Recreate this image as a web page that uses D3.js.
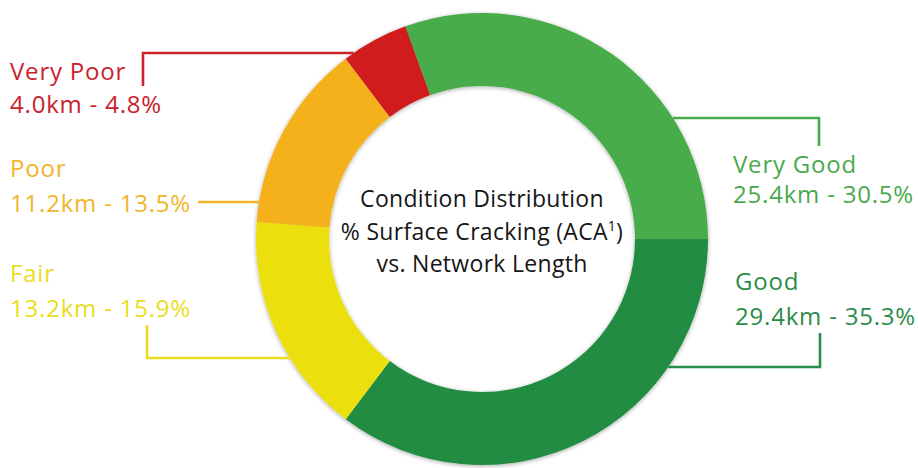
<!DOCTYPE html>
<html>
<head>
<meta charset="utf-8">
<script src="https://cdn.jsdelivr.net/npm/d3@7"></script>
<style>
  html, body { margin: 0; padding: 0; background: #fff; }
  svg { display: block; }
</style>
</head>
<body>
<svg id="chart" width="918" height="468"></svg>
<script>
// ---- data ----
const categories = ["Good", "Fair", "Poor", "Very Poor", "Very Good"];
const lengthsKm = [29.4, 13.2, 11.2, 4.0, 25.4];
const percents = [35.3, 15.9, 13.5, 4.8, 30.5];
const centerTitle = ["Condition Distribution", "% Surface Cracking (ACA", "vs. Network Length"];

// ---- styles / layout ----
const sliceColors = {
  "Good": "#248c43",
  "Fair": "#ebe00c",
  "Poor": "#f5b11d",
  "Very Poor": "#d01a1f",
  "Very Good": "#47ac4a"
};
const textColors = {
  "Good": "#2b8c48",
  "Fair": "#e9dd1c",
  "Poor": "#f1b42a",
  "Very Poor": "#c9222b",
  "Very Good": "#4aa94d"
};
const labelLayout = {
  "Very Poor": { x: 10, y1: 80, y2: 113, side: -1, elbow: [[143, 86], [143, 53]] },
  "Poor":      { x: 10, y1: 177, y2: 212, side: -1, elbow: [[198, 202]] },
  "Fair":      { x: 10, y1: 282, y2: 317, side: -1, elbow: [[147, 325], [147, 358]] },
  "Very Good": { x: 733, y1: 173, y2: 203, side: 1, elbow: [[819, 146], [819, 118]] },
  "Good":      { x: 735, y1: 290, y2: 325, side: 1, elbow: [[820, 333], [820, 367]] }
};

const cx = 482, cy = 239, rOuter = 226, rInner = 153;

const svg = d3.select("#chart");
const defs = svg.append("defs");
const f = defs.append("filter").attr("id", "soft").attr("x", "-10%").attr("y", "-10%").attr("width", "120%").attr("height", "120%");
f.append("feGaussianBlur").attr("in", "SourceAlpha").attr("stdDeviation", 2).attr("result", "b");
f.append("feOffset").attr("in", "b").attr("dx", 0).attr("dy", 1).attr("result", "o");
f.append("feComponentTransfer").attr("in", "o").attr("result", "s")
  .append("feFuncA").attr("type", "linear").attr("slope", 0.35);
f.append("feGaussianBlur").attr("in", "SourceGraphic").attr("stdDeviation", 0.6).attr("result", "g");
const m = f.append("feMerge");
m.append("feMergeNode").attr("in", "s");
m.append("feMergeNode").attr("in", "g");

const data = categories.map((c, i) => ({ cat: c, km: lengthsKm[i], pct: percents[i] }));

const pie = d3.pie()
  .sort(null)
  .value(d => d.pct)
  .startAngle(Math.PI / 2)
  .endAngle(Math.PI / 2 + 2 * Math.PI);

const arc = d3.arc().innerRadius(rInner).outerRadius(rOuter);

const ring = svg.append("g")
  .attr("transform", `translate(${cx},${cy})`)
  .attr("filter", "url(#soft)");

ring.selectAll("path")
  .data(pie(data))
  .join("path")
  .attr("d", arc)
  .attr("fill", d => sliceColors[d.data.cat]);

// connectors + labels
const fontFamily = "'Open Sans', 'Noto Sans', sans-serif";
const labels = svg.append("g");
data.forEach(d => {
  const L = labelLayout[d.cat];
  const pts = L.elbow.slice();
  const last = pts[pts.length - 1];
  const dy = last[1] - cy;
  const ringX = cx + L.side * Math.sqrt(rOuter * rOuter - dy * dy);
  pts.push([ringX, last[1]]);
  labels.append("path")
    .attr("d", d3.line()(pts))
    .attr("fill", "none")
    .attr("stroke", textColors[d.cat])
    .attr("stroke-width", 2.6);
  const t = labels.append("text")
    .attr("font-family", fontFamily)
    .attr("font-size", 24)
    .attr("letter-spacing", 0.8)
    .attr("fill", textColors[d.cat]);
  t.append("tspan").attr("x", L.x).attr("y", L.y1).text(d.cat);
  t.append("tspan").attr("x", L.x).attr("y", L.y2)
    .text(`${d.km.toFixed(1)}km - ${d.pct.toFixed(1)}%`);
});

// center title
const ct = svg.append("text")
  .attr("font-family", fontFamily)
  .attr("font-size", 23)
  .attr("letter-spacing", 0.3)
  .attr("fill", "#161616")
  .attr("text-anchor", "middle");
ct.append("tspan").attr("x", cx).attr("y", 207).text(centerTitle[0]);
const l2 = ct.append("tspan").attr("x", cx).attr("y", 240);
l2.append("tspan").text(centerTitle[1]);
l2.append("tspan").attr("font-size", 14).attr("dy", -9).text("1");
l2.append("tspan").attr("dy", 9).text(")");
ct.append("tspan").attr("x", cx).attr("y", 272).text(centerTitle[2]);
</script>
</body>
</html>
